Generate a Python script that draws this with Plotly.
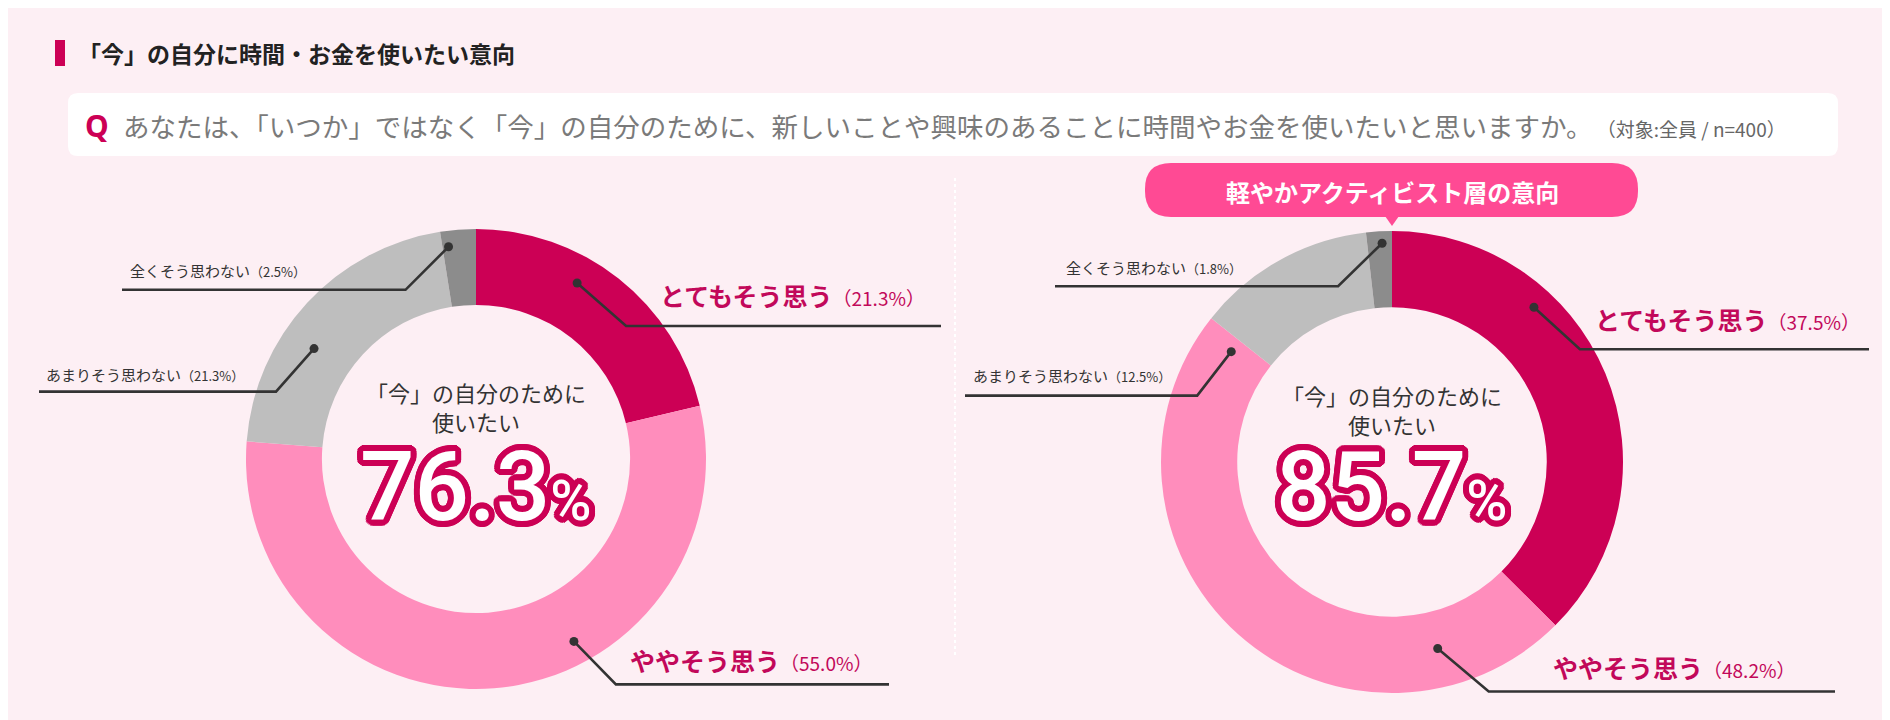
import numpy as np
import plotly.graph_objects as go

W, H = 1890, 720

# data
answers = ["とてもそう思う", "ややそう思う", "あまりそう思わない", "全くそう思わない"]
all_values = [21.3, 55.0, 21.3, 2.5]
active_values = [37.5, 48.2, 12.5, 1.8]
all_want = 76.3
active_want = 85.7

title_text = "「今」の自分に時間・お金を使いたい意向"
question_text = "あなたは、「いつか」ではなく「今」の自分のために、新しいことや興味のあることに時間やお金を使いたいと思いますか。"
target_text = "（対象:全員 / n=400）"
badge_text = "軽やかアクティビスト層の意向"
center_text = "「今」の自分のために<br>使いたい"

JP = "Noto Sans CJK JP"
CRIMSON = "#CC0055"
LABEL_RED = "#C2085A"
colors = [CRIMSON, "#FF8DBC", "#BEBEBE", "#8C8C8C"]
BG = "#FDEFF4"
INK = "#333333"

# donut geometry (pixels) and leader styling per slice
panels = [
    dict(values=all_values, want=all_want, cx=468, cy=451, r=230,
         leaders=[
             dict(f=0.39, rd=203, off=(49, 43), end=933, lx=650, dy=-31),
             dict(f=0.38, rd=207, off=(42, 43), end=881, lx=620, dy=-24),
             dict(f=0.39, rd=196, off=(-38, 43), end=31, lx=36, dy=-17),
             dict(f=0.18, rd=214, off=(-43, 43), end=114, lx=120, dy=-19),
         ], cty=398),
    dict(values=active_values, want=active_want, cx=1384, cy=454, r=231,
         leaders=[
             dict(f=0.315, rd=210, off=(46, 42), end=1861, lx=1585, dy=-30),
             dict(f=0.18, rd=192, off=(51, 43), end=1827, lx=1543, dy=-24),
             dict(f=-0.09, rd=195, off=(-34, 44), end=957, lx=963, dy=-20),
             dict(f=0.6, rd=219, off=(-44, 43), end=1047, lx=1056, dy=-19),
         ], cty=401),
]


def rounded_rect(x0, y0, x1, y1, rad):
    return (f"M {x0+rad} {y0} L {x1-rad} {y0} Q {x1} {y0} {x1} {y0+rad} "
            f"L {x1} {y1-rad} Q {x1} {y1} {x1-rad} {y1} L {x0+rad} {y1} "
            f"Q {x0} {y1} {x0} {y1-rad} L {x0} {y0+rad} Q {x0} {y0} {x0+rad} {y0} Z")


def outline(color, w, n=24):
    parts = []
    for a in np.linspace(0, 2 * np.pi, n, endpoint=False):
        parts.append(f"{w*np.cos(a):.1f}px {w*np.sin(a):.1f}px 0px {color}")
    return ", ".join(parts)


fig = go.Figure()

shapes = []
annotations = []

# header
shapes.append(dict(type="rect", xref="x", yref="y", x0=47, x1=57, y0=32, y1=58,
                   fillcolor=CRIMSON, line=dict(width=0), layer="below"))
annotations.append(dict(x=68, y=45, text=title_text, xanchor="left", yanchor="middle",
                        font=dict(family=JP, size=23, color="#222222", weight="bold")))
shapes.append(dict(type="path", xref="x", yref="y", path=rounded_rect(60, 85, 1830, 148, 10),
                   fillcolor="white", line=dict(width=0), layer="below"))
annotations.append(dict(x=75, y=117, text="Q", xanchor="left", yanchor="middle",
                        font=dict(family="Noto Sans", size=30, color=CRIMSON, weight="bold")))
annotations.append(dict(x=113, y=117, xanchor="left", yanchor="middle",
                        text=question_text + f"<span style='font-size:19px;color:#666666'> {target_text}</span>",
                        font=dict(family=JP, size=26.5, color="#7A7A7A")))

# dotted separator
shapes.append(dict(type="line", xref="x", yref="y", x0=947, x1=947, y0=170, y1=650,
                   line=dict(color="white", width=2, dash="dot"), layer="below"))

# badge
shapes.append(dict(type="path", xref="x", yref="y", path=rounded_rect(1137, 155, 1630, 209, 26),
                   fillcolor="#FF4A94", line=dict(width=0), layer="below"))
shapes.append(dict(type="path", xref="x", yref="y", path="M 1377 208 L 1384 218 L 1391 208 Z",
                   fillcolor="#FF4A94", line=dict(width=0), layer="below"))
annotations.append(dict(x=1384, y=183, text=badge_text, xanchor="center", yanchor="middle",
                        font=dict(family=JP, size=24, color="white", weight="bold")))

for p in panels:
    vals = p["values"]
    x0, x1 = (p["cx"] - p["r"]) / W, (p["cx"] + p["r"]) / W
    y0, y1 = 1 - (p["cy"] + p["r"]) / H, 1 - (p["cy"] - p["r"]) / H
    fig.add_trace(go.Pie(
        values=vals, labels=answers, sort=False, direction="clockwise", rotation=0,
        hole=0.67, textinfo="none", hoverinfo="label+value", showlegend=False,
        marker=dict(colors=colors, line=dict(width=0)),
        domain=dict(x=[x0, x1], y=[y0, y1]),
    ))

    total = sum(vals)
    starts = np.cumsum([0] + vals[:-1]) / total * 360
    widths = np.array(vals) / total * 360
    for i, ld in enumerate(p["leaders"]):
        ang = np.radians(starts[i] + ld["f"] * widths[i])
        dx = p["cx"] + ld["rd"] * np.sin(ang)
        dy = p["cy"] - ld["rd"] * np.cos(ang)
        ex, ey = dx + ld["off"][0], dy + ld["off"][1]
        shapes.append(dict(type="path", xref="x", yref="y", layer="above",
                           path=f"M {dx:.1f} {dy:.1f} L {ex:.1f} {ey:.1f} L {ld['end']} {ey:.1f}",
                           line=dict(color=INK, width=2.6)))
        shapes.append(dict(type="circle", xref="x", yref="y", layer="above",
                           x0=dx - 4.5, x1=dx + 4.5, y0=dy - 4.5, y1=dy + 4.5,
                           fillcolor=INK, line=dict(width=0)))
        pct = f"{vals[i]:.1f}%"
        if i < 2:
            txt = f"{answers[i]}<span style='font-size:19px;font-weight:normal'>（{pct}）</span>"
            fnt = dict(family=JP, size=25, color=LABEL_RED, weight="bold")
        else:
            txt = f"{answers[i]}<span style='font-size:13px'>（{pct}）</span>"
            fnt = dict(family=JP, size=15, color=INK)
        annotations.append(dict(x=ld["lx"], y=ey + ld["dy"], text=txt, xanchor="left",
                                yanchor="middle", font=fnt))

    annotations.append(dict(x=p["cx"], y=p["cty"], text=center_text, xanchor="center",
                            yanchor="middle", align="center", borderpad=0,
                            font=dict(family=JP, size=22, color=INK)))
    annotations.append(dict(x=p["cx"], y=479, xanchor="center", yanchor="middle", borderpad=0,
                            text=f"{p['want']:.1f}<span style='font-size:56px'>%</span>",
                            font=dict(family="Roboto", size=96, color="white", weight=500,
                                      shadow=outline(CRIMSON, 6))))

for a in annotations:
    a.update(xref="x", yref="y", showarrow=False)

fig.update_layout(
    width=W, height=H, margin=dict(l=0, r=0, t=0, b=0),
    paper_bgcolor=BG, plot_bgcolor="rgba(0,0,0,0)",
    xaxis=dict(range=[0, W], visible=False, fixedrange=True, domain=[0, 1]),
    yaxis=dict(range=[H, 0], visible=False, fixedrange=True, domain=[0, 1]),
    shapes=shapes, annotations=annotations,
)

fig.write_html("out.html")
